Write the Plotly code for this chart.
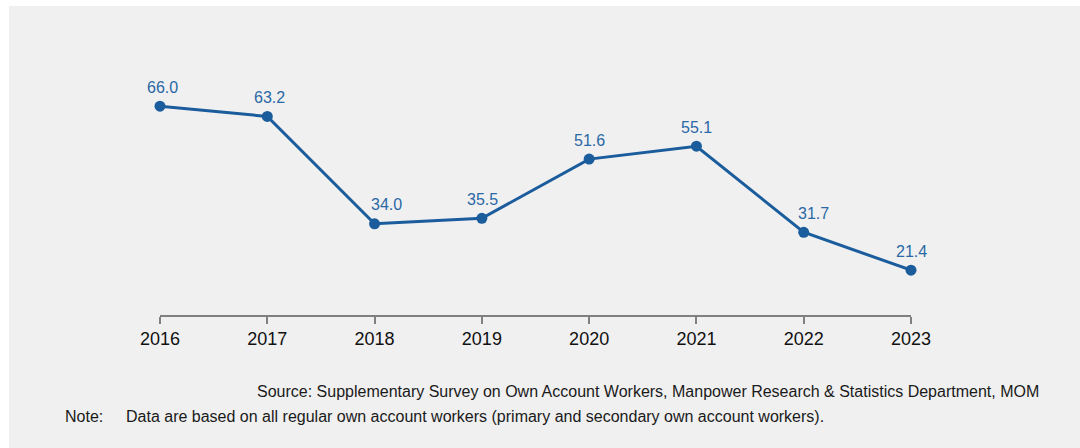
import plotly.graph_objects as go

years = [2016, 2017, 2018, 2019, 2020, 2021, 2022, 2023]
values = [66.0, 63.2, 34.0, 35.5, 51.6, 55.1, 31.7, 21.4]
value_labels = [f"{v:.1f}" for v in values]

LINE = "#1a5c9c"
LABEL = "#2a68a6"
BG = "#f0f0f0"
FONT = "Liberation Sans, Arial, sans-serif"

W, H = 1080, 448
ML, MR, MT, MB = 160, W - 911, 20, H - 315

# nudge labels sitting on steep descents off the line
label_dx = [2, 2, 12, 1, 0, 0, 10, 0]

fig = go.Figure()
fig.add_trace(go.Scatter(
    x=years, y=values,
    mode="lines+markers",
    line=dict(color=LINE, width=3),
    marker=dict(color=LINE, size=11),
    cliponaxis=False,
    hoverinfo="skip",
))

for x, y, t, dx in zip(years, values, value_labels, label_dx):
    fig.add_annotation(
        x=x, y=y, text=t, showarrow=False,
        xanchor="center", yanchor="middle",
        xshift=dx, yshift=19,
        font=dict(color=LABEL, size=16, family=FONT),
    )

pw = W - ML - MR
ph = H - MT - MB
def px(x):
    return (x - ML) / pw
def py(y):
    return (H - MB - y) / ph

# white frame strips along the top and left edges
fig.add_shape(type="rect", xref="paper", yref="paper",
              x0=px(0), x1=px(W), y0=py(6), y1=py(0),
              fillcolor="white", line_width=0, layer="below")
fig.add_shape(type="rect", xref="paper", yref="paper",
              x0=px(0), x1=px(9), y0=py(H), y1=py(0),
              fillcolor="white", line_width=0, layer="below")

fig.add_annotation(
    xref="paper", yref="paper", x=px(1041), y=py(391),
    xanchor="right", yanchor="middle", showarrow=False,
    text="Source: Supplementary Survey on Own Account Workers, Manpower Research & Statistics Department, MOM",
    font=dict(size=16, color="#1a1a1a", family=FONT),
)
fig.add_annotation(
    xref="paper", yref="paper", x=px(63), y=py(417),
    xanchor="left", yanchor="middle", showarrow=False,
    text="Note:", font=dict(size=16, color="#1a1a1a", family=FONT),
)
fig.add_annotation(
    xref="paper", yref="paper", x=px(124), y=py(417),
    xanchor="left", yanchor="middle", showarrow=False,
    text="Data are based on all regular own account workers (primary and secondary own account workers).",
    font=dict(size=16, color="#1a1a1a", family=FONT),
)

y0 = 9.2
y1 = y0 + ph / 3.677
fig.update_layout(
    width=W, height=H,
    margin=dict(l=ML, r=MR, t=MT, b=MB),
    paper_bgcolor=BG, plot_bgcolor=BG,
    showlegend=False,
    xaxis=dict(
        range=[2016, 2023], tickmode="array", tickvals=years,
        ticktext=[str(y) for y in years],
        showgrid=False, zeroline=False,
        showline=True, linecolor="#808080", linewidth=1.5,
        ticks="outside", ticklen=7, tickcolor="#808080", tickwidth=1.5,
        tickfont=dict(size=18, color="#111111", family=FONT),
        fixedrange=True,
    ),
    yaxis=dict(
        range=[y0, y1], visible=False, showgrid=False, zeroline=False,
        fixedrange=True,
    ),
)

fig.write_html("out.html", config={"displayModeBar": False})
